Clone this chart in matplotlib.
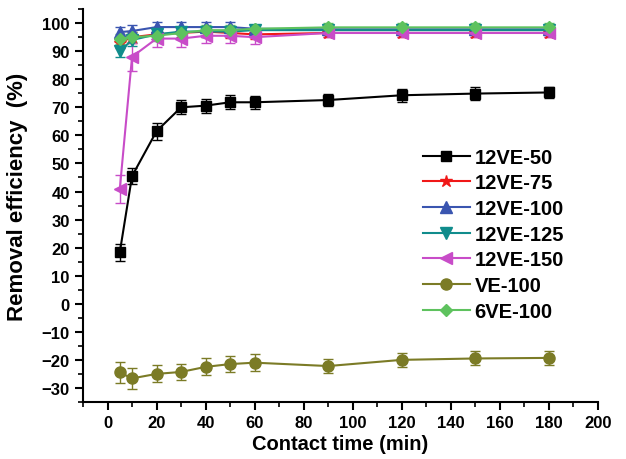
import matplotlib
matplotlib.use("Agg")
import matplotlib.pyplot as plt
from matplotlib.ticker import MultipleLocator

plt.rcParams['font.family'] = ['Liberation Sans', 'DejaVu Sans']
plt.rcParams['font.weight'] = 'bold'

# -------------------------------
# Data
# -------------------------------
time = [5, 10, 20, 30, 40, 50, 60, 90, 120, 150, 180]

ve50_12 = [18.3, 45.5, 61.5, 70.0, 70.6, 71.8, 71.8, 72.6, 74.3, 74.9, 75.3]
ve50_12_err = [3.0, 3.0, 3.0, 2.5, 2.5, 2.5, 2.3, 2.3, 2.3, 2.3, 2.0]

ve75_12 = [93.0, 95.0, 96.0, 96.5, 97.0, 96.5, 96.0, 96.5, 96.5, 96.5, 96.5]
ve75_12_err = [2.0, 2.0, 1.8, 1.8, 1.8, 1.8, 1.8, 1.5, 1.5, 1.5, 1.5]

ve100_12 = [96.8, 97.2, 98.6, 98.6, 98.6, 98.6, 98.0, 97.8, 97.8, 97.8, 97.8]
ve100_12_err = [2.0, 2.0, 1.8, 1.8, 1.8, 1.8, 1.5, 1.5, 1.5, 1.5, 1.5]

ve125_12 = [90.0, 94.0, 96.0, 97.0, 97.0, 97.0, 97.5, 97.5, 97.5, 97.5, 97.5]
ve125_12_err = [2.0, 2.0, 1.8, 1.8, 1.8, 1.8, 1.5, 1.5, 1.5, 1.5, 1.5]

ve150_12 = [40.8, 88.0, 94.5, 94.5, 95.5, 95.5, 95.0, 96.5, 96.5, 96.5, 96.5]
ve150_12_err = [5.0, 5.0, 3.0, 3.0, 2.5, 2.5, 2.5, 1.5, 1.5, 1.5, 1.5]

ve100 = [-24.5, -26.6, -25.0, -24.3, -22.5, -21.5, -21.0, -22.2, -20.0, -19.5, -19.3]
ve100_err = [3.8, 3.8, 3.0, 3.0, 3.0, 3.0, 3.0, 2.5, 2.5, 2.5, 2.5]

ve100_6 = [94.5, 95.0, 95.5, 96.5, 97.5, 97.5, 98.0, 98.5, 98.5, 98.5, 98.5]
ve100_6_err = [1.8, 1.8, 1.8, 1.8, 1.8, 1.8, 1.5, 1.5, 1.5, 1.5, 1.5]

labels = ["12VE-50", "12VE-75", "12VE-100", "12VE-125", "12VE-150", "VE-100", "6VE-100"]

# -------------------------------
# Plot
# -------------------------------
fig = plt.figure(figsize=(6.26, 4.6), dpi=100)
ax = fig.add_axes([0.1326, 0.124, 0.8224, 0.854])

series = [
    (ve50_12, ve50_12_err, "black", "s", 7),
    (ve75_12, ve75_12_err, "#f01818", "*", 9),
    (ve100_12, ve100_12_err, "#3a55b0", "^", 8),
    (ve125_12, ve125_12_err, "#108c8c", "v", 8),
    (ve150_12, ve150_12_err, "#c84cc8", "<", 8),
    (ve100, ve100_err, "#7b7b26", "o", 8),
    (ve100_6, ve100_6_err, "#5ec25e", "D", 6),
]

handles = []
for (y, err, col, mk, ms), name in zip(series, labels):
    c = ax.errorbar(time, y, yerr=err, color=col, marker=mk, markersize=ms,
                    linewidth=1.5, elinewidth=1.0, capsize=3.5, capthick=1.0)
    handles.append(c[0])

ax.set_xlim(-10, 200)
ax.set_ylim(-35, 105)
ax.xaxis.set_major_locator(MultipleLocator(20))
ax.xaxis.set_minor_locator(MultipleLocator(10))
ax.set_yticks(range(-30, 101, 10))
ax.yaxis.set_minor_locator(MultipleLocator(5))

ax.spines['top'].set_visible(False)
ax.spines['right'].set_visible(False)
ax.spines['left'].set_linewidth(1.5)
ax.spines['bottom'].set_linewidth(1.5)
ax.tick_params(which='major', direction='out', length=6, width=1.5, labelsize=12)
ax.tick_params(which='minor', direction='out', length=3.5, width=1.2)
for lab in ax.get_xticklabels() + ax.get_yticklabels():
    lab.set_fontweight('bold')

ax.set_xlabel("Contact time (min)", fontsize=14.5, fontweight='bold', labelpad=3)
ax.set_ylabel("Removal efficiency  (%)", fontsize=16, fontweight='bold')
ax.yaxis.set_label_coords(-0.107, 0.524)

ax.legend(handles, labels, loc='upper left', bbox_to_anchor=(0.661, 0.647),
          frameon=False, handlelength=2.3, labelspacing=0.33,
          handletextpad=0.25, borderpad=0, borderaxespad=0,
          prop={'weight': 'bold', 'size': 14.5})

fig.savefig("out.png", dpi=100)
